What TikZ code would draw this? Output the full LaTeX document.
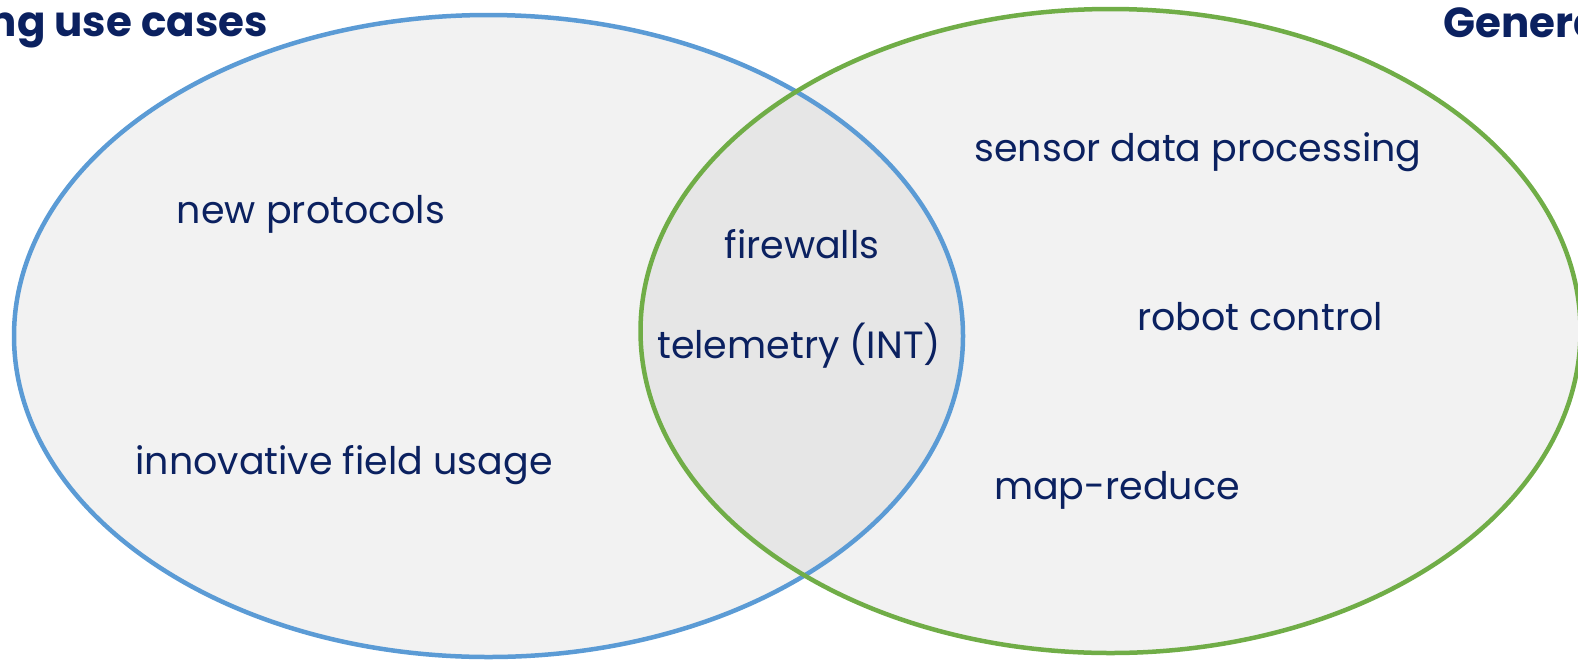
\documentclass[tikz,border=0pt]{standalone}
\usepackage{fontspec}
\setmainfont{Poppins}
\usepackage{xcolor}
\usepackage{tikz}
\usetikzlibrary{positioning}
\definecolor{netblue}{HTML}{5B9BD5}
\definecolor{gengreen}{HTML}{70AD47}
\definecolor{setfill}{HTML}{F2F2F2}
\definecolor{capfill}{HTML}{E6E6E6}
\definecolor{navytext}{HTML}{0B2160}

\begin{document}
\begin{tikzpicture}[x=1pt, y=-1pt]

	\tikzstyle{usecase}=[text=navytext, font=\fontsize{38}{42}\selectfont, anchor=base, inner sep=0pt]
	\tikzstyle{settitle}=[text=navytext, font=\fontsize{42}{46}\selectfont\bfseries, inner sep=0pt]

	\useasboundingbox (0,0) rectangle (1578,662);

	% the two sets
	\fill [setfill] (488.5,336) ellipse [x radius=474.5, y radius=321];
	\fill [setfill] (1110.5,331) ellipse [x radius=470, y radius=322];
	\begin{scope}
		\clip (488.5,336) ellipse [x radius=474.5, y radius=321];
		\fill [capfill] (1110.5,331) ellipse [x radius=470, y radius=322];
	\end{scope}
	\draw [netblue, line width=4.5] (488.5,336) ellipse [x radius=474.5, y radius=321];
	\draw [gengreen, line width=4.5] (1110.5,331) ellipse [x radius=470, y radius=322];

	% titles, cut at the page edge
	\node (nettitle) at (268,36) [settitle, anchor=base east] {ng use cases};
	\node (gentitle) at (1443,37) [settitle, anchor=base west] {Genera};

	% left only
	\node (protocols) at (311,223) [usecase] {new protocols};
	\node (fieldusage) at (344,474) [usecase] {innovative field usage};

	% both
	\node (firewalls) at (802,258) [usecase] {firewalls};
	\node (telemetry) at (799,358) [usecase] {telemetry (INT)};

	% right only
	\node (sensordata) at (1198,161) [usecase] {sensor data processing};
	\node (robot) at (1260,330) [usecase] {robot control};
	\node (mapreduce) at (1117,499) [usecase] {map-reduce};
\end{tikzpicture}
\end{document}
